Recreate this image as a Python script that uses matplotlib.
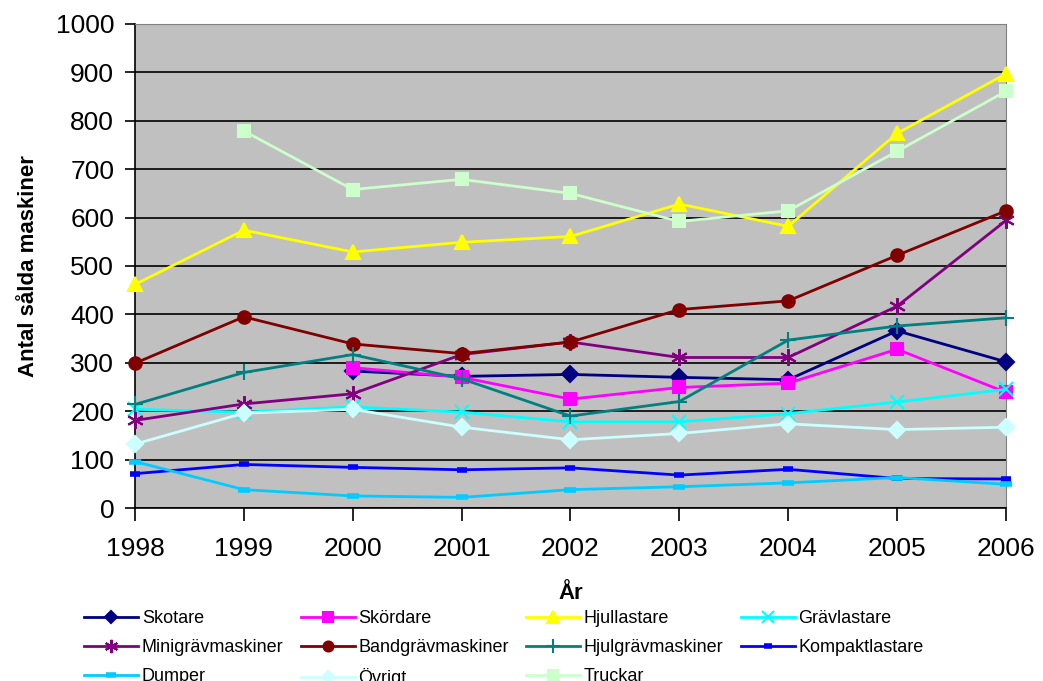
import matplotlib.pyplot as plt
import numpy as np

plt.rcParams['font.family'] = ['Liberation Sans', 'DejaVu Sans']

years = [1998, 1999, 2000, 2001, 2002, 2003, 2004, 2005, 2006]

skotare = [None, None, 283, 272, 276, 270, 265, 366, 302]
skordare = [None, None, 290, 270, 225, 249, 258, 328, 239]
hjullastare = [462, 574, 529, 549, 561, 628, 582, 774, 897]
gravlastare = [204, 198, 209, 198, 178, 178, 195, 219, 245]
minigrav = [181, 215, 236, 317, 343, 311, 311, 417, 594]
bandgrav = [299, 395, 339, 319, 343, 410, 428, 522, 614]
hjulgrav = [214, 280, 317, 267, 190, 220, 347, 376, 393]
kompakt = [71, 90, 84, 79, 83, 68, 80, 61, 60]
dumper = [96, 38, 25, 22, 38, 44, 52, 63, 49]
ovrigt = [132, 196, 204, 167, 141, 154, 174, 162, 167]
truckar = [None, 779, 658, 679, 650, 592, 614, 737, 861]

series = [
    ("Skotare", skotare, "#000080", "D", 8),
    ("Skördare", skordare, "#FF00FF", "s", 9),
    ("Hjullastare", hjullastare, "#FFFF00", "^", 10),
    ("Grävlastare", gravlastare, "#00FFFF", "x", 10),
    ("Minigrävmaskiner", minigrav, "#800080", (6, 2, 0), 12),
    ("Bandgrävmaskiner", bandgrav, "#800000", "o", 9),
    ("Hjulgrävmaskiner", hjulgrav, "#008080", "+", 12),
    ("Kompaktlastare", kompakt, "#0000FF", "_", 7),
    ("Dumper", dumper, "#00CCFF", "_", 9),
    ("Övrigt", ovrigt, "#CCFFFF", "D", 8),
    ("Truckar", truckar, "#CCFFCC", "s", 9),
]

fig = plt.figure(figsize=(10.43, 6.81), dpi=100)
ax = fig.add_axes([0.1294, 0.254, 0.8351, 0.7108])
ax.set_facecolor("#C0C0C0")

for name, vals, col, mk, ms in series:
    y = np.array([np.nan if v is None else v for v in vals], dtype=float)
    mew = 4 if mk == "_" else 1.5
    ax.plot(years, y, color=col, marker=mk, markersize=ms, linewidth=2,
            markeredgewidth=mew, markeredgecolor=col, markerfacecolor=col,
            label=name, clip_on=False, zorder=3)

ax.set_xlim(1998, 2006)
ax.set_ylim(0, 1000)
ax.set_yticks(range(0, 1001, 100))
ax.set_xticks(years)
ax.yaxis.grid(True, color="black", linewidth=1.2)
ax.set_axisbelow(True)
ax.tick_params(axis="both", labelsize=19, direction="out", length=7, width=1.2)
ax.tick_params(axis="y", pad=8)
ax.tick_params(axis="x", length=9, pad=12)
ax.spines["top"].set_color("#808080")
ax.spines["right"].set_color("#808080")
ax.spines["left"].set_linewidth(1.2)
ax.spines["bottom"].set_linewidth(1.2)

ax.set_ylabel("Antal sålda maskiner", fontsize=16, fontweight="bold", labelpad=12)
ax.set_xlabel("År", fontsize=16, fontweight="bold", labelpad=16)

handles, labels = ax.get_legend_handles_labels()
order = [0, 4, 8, 1, 5, 9, 2, 6, 10, 3, 7]
fig.legend([handles[i] for i in order], [labels[i] for i in order],
           loc="upper left", bbox_to_anchor=(0.072, 0.117), ncol=4,
           frameon=False, fontsize=13, handlelength=3.0, handletextpad=0.2,
           columnspacing=0.95, labelspacing=0.65, borderpad=0, markerscale=0.8)

fig.savefig("out.png", dpi=100)
